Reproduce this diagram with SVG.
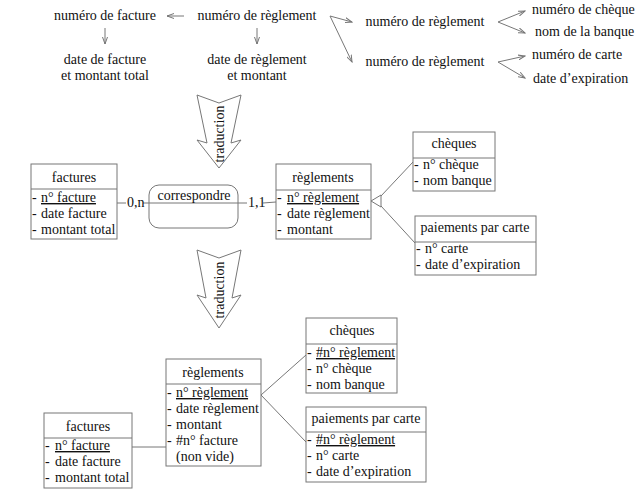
<svg xmlns="http://www.w3.org/2000/svg" width="639" height="493" viewBox="0 0 639 493" font-family="'Liberation Serif','Times New Roman','DejaVu Serif',serif">
<defs>
<style>
text{font-family:"Liberation Serif","Times New Roman","DejaVu Serif",serif;font-size:14px;fill:#111}
.c{text-anchor:middle}
.u{text-decoration:underline}
.box{fill:#fff;stroke:#777;stroke-width:1}
.ln{fill:none;stroke:#777;stroke-width:1}
.arr{fill:none;stroke:#777;stroke-width:1;marker-end:url(#ah)}
.big{fill:#fff;stroke:#777;stroke-width:1}
</style>
<marker id="ah" markerWidth="8" markerHeight="6" refX="7" refY="3" orient="auto" markerUnits="userSpaceOnUse">
<path d="M0,0.5 L7,3 L0,5.5" fill="none" stroke="#777" stroke-width="1"/>
</marker>
</defs>
<rect width="639" height="493" fill="#fff"/>

<g id="dependances">
<text class="c" x="105" y="20">numéro de facture</text>
<text class="c" x="257" y="20">numéro de règlement</text>
<text class="c" x="105" y="64">date de facture</text>
<text class="c" x="105" y="80">et montant total</text>
<text class="c" x="257" y="64">date de règlement</text>
<text class="c" x="257" y="80">et montant</text>
<text class="c" x="425" y="26">numéro de règlement</text>
<text class="c" x="425" y="66">numéro de règlement</text>
<text x="532" y="14">numéro de chèque</text>
<text x="535" y="36">nom de la banque</text>
<text x="532" y="59">numéro de carte</text>
<text x="533" y="83">date d’expiration</text>
</g>

<g id="connecteurs">
<path class="arr" d="M184,16 L167,16"/>
<path class="arr" d="M105,28 L105,44"/>
<path class="arr" d="M257,28 L257,44"/>
<path class="arr" d="M330,16 L352,22"/>
<path class="arr" d="M330,16 L352,62"/>
<path class="arr" d="M498,22 L525,11"/>
<path class="arr" d="M498,22 L525,33"/>
<path class="arr" d="M498,62 L525,56"/>
<path class="arr" d="M498,62 L525,78"/>
<path class="ln" d="M117,203 L126,203"/>
<path class="ln" d="M143,203 L247,203"/>
<path class="ln" d="M263,203 L276,202"/>
<path class="ln" d="M381,196 L413,162"/>
<path class="ln" d="M381,206 L415,243"/>
<polygon class="box" points="371,201 381,195 381,207"/>
<path class="ln" d="M132,447 L166,447"/>
<path class="ln" d="M261,395 L306,355"/>
<path class="ln" d="M261,395 L306,442"/>
</g>

<g id="traduction1">
<polygon class="big" points="197,95 219,103 241,95 231,143 241,140 219,168 197,140 207,143"/>
<text class="c" transform="translate(224,134) rotate(-90)">traduction</text>
</g>
<g id="traduction2">
<polygon class="big" points="197,250 219,258 241,250 232,298 241,295 219,328 197,295 206,298"/>
<text class="c" transform="translate(224,290) rotate(-90)">traduction</text>
</g>

<g id="factures1">
<rect class="box" x="31" y="164" width="86" height="75"/>
<line class="ln" x1="31" y1="189" x2="117" y2="189"/>
<text class="c" x="74" y="182">factures</text>
<text x="32" y="202">-</text><text class="u" x="41" y="202">n° facture</text>
<text x="32" y="218">-</text><text x="41" y="218">date facture</text>
<text x="32" y="234">-</text><text x="41" y="234">montant total</text>
</g>

<g id="correspondre">
<rect x="149" y="185" width="89" height="43" rx="10" ry="10" fill="none" stroke="#777"/>
<text class="c" x="194" y="200">correspondre</text>
</g>
<g id="cardinalites">
<text x="127" y="207">0,n</text>
<text x="248" y="207">1,1</text>
</g>

<g id="reglements1">
<rect class="box" x="276" y="164" width="95" height="75"/>
<line class="ln" x1="276" y1="190" x2="371" y2="190"/>
<text class="c" x="323" y="182">règlements</text>
<text x="277" y="202">-</text><text class="u" x="287" y="202">n° règlement</text>
<text x="277" y="218">-</text><text x="287" y="218">date règlement</text>
<text x="277" y="234">-</text><text x="287" y="234">montant</text>
</g>

<g id="cheques1">
<rect class="box" x="413" y="132" width="82" height="59"/>
<line class="ln" x1="413" y1="158" x2="495" y2="158"/>
<text class="c" x="454" y="148">chèques</text>
<text x="414" y="169">-</text><text x="423" y="169">n° chèque</text>
<text x="414" y="185">-</text><text x="423" y="185">nom banque</text>
</g>

<g id="cartes1">
<rect class="box" x="415" y="216" width="121" height="59"/>
<line class="ln" x1="415" y1="242" x2="536" y2="242"/>
<text class="c" x="475" y="232">paiements par carte</text>
<text x="416" y="253">-</text><text x="425" y="253">n° carte</text>
<text x="416" y="269">-</text><text x="425" y="269">date d’expiration</text>
</g>

<g id="reglements2">
<rect class="box" x="166" y="359" width="95" height="107"/>
<line class="ln" x1="166" y1="384" x2="261" y2="384"/>
<text class="c" x="213" y="377">règlements</text>
<text x="167" y="397">-</text><text class="u" x="176" y="397">n° règlement</text>
<text x="167" y="413">-</text><text x="176" y="413">date règlement</text>
<text x="167" y="429">-</text><text x="176" y="429">montant</text>
<text x="167" y="445">-</text><text x="176" y="445">#n° facture</text>
<text x="176" y="461">(non vide)</text>
</g>

<g id="factures2">
<rect class="box" x="44" y="413" width="88" height="75"/>
<line class="ln" x1="44" y1="438" x2="132" y2="438"/>
<text class="c" x="88" y="431">factures</text>
<text x="45" y="450">-</text><text class="u" x="55" y="450">n° facture</text>
<text x="45" y="466">-</text><text x="55" y="466">date facture</text>
<text x="45" y="482">-</text><text x="55" y="482">montant total</text>
</g>

<g id="cheques2">
<rect class="box" x="306" y="318" width="91" height="75"/>
<line class="ln" x1="306" y1="344" x2="397" y2="344"/>
<text class="c" x="352" y="335">chèques</text>
<text x="307" y="357">-</text><text class="u" x="316" y="357">#n° règlement</text>
<text x="307" y="373">-</text><text x="316" y="373">n° chèque</text>
<text x="307" y="389">-</text><text x="316" y="389">nom banque</text>
</g>

<g id="cartes2">
<rect class="box" x="306" y="407" width="120" height="75"/>
<line class="ln" x1="306" y1="432" x2="426" y2="432"/>
<text class="c" x="366" y="423">paiements par carte</text>
<text x="307" y="444">-</text><text class="u" x="316" y="444">#n° règlement</text>
<text x="307" y="460">-</text><text x="316" y="460">n° carte</text>
<text x="307" y="476">-</text><text x="316" y="476">date d’expiration</text>
</g>
</svg>
